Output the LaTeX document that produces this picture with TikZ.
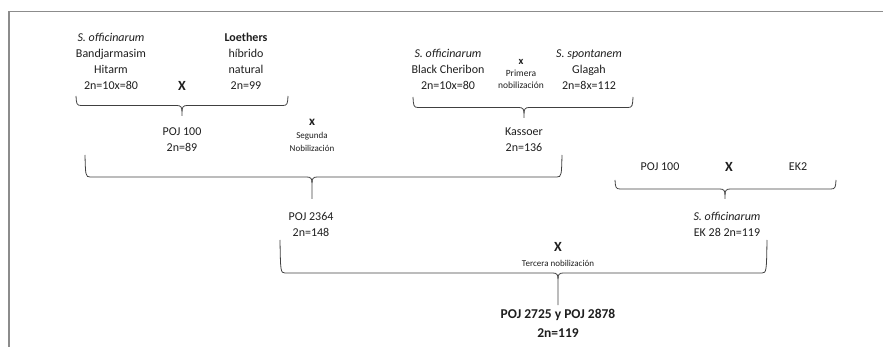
\documentclass[tikz,border=0pt]{standalone}
\usepackage{fontspec}
\setmainfont{Carlito}
\definecolor{framegray}{HTML}{8C8C8C}
\definecolor{bracegray}{HTML}{404040}
\definecolor{txt}{HTML}{1E1E1E}
\newcommand{\mybrace}[6]{% #1 xl, #2 xr, #3 xm, #4 ytop, #5 yh, #6 ytip
  \draw[bracestyle] (#1,#4) .. controls ({#1+0.5},{#5-2}) and ({#1+0.5},#5) .. ({#1+5},#5) -- ({#3-5},#5) .. controls ({#3-1},#5) and (#3,{#5+2}) .. (#3,{#5+6}) -- (#3,#6);
  \draw[bracestyle] (#2,#4) .. controls ({#2-0.5},{#5-2}) and ({#2-0.5},#5) .. ({#2-5},#5) -- ({#3+5},#5) .. controls ({#3+1},#5) and (#3,{#5+2}) .. (#3,{#5+6});
}
\tikzset{
  bracestyle/.style={draw=bracegray, line width=0.8pt},
  lbl/.style={anchor=base, align=center, inner sep=0pt, text=txt, font=\fontsize{12}{16.3}\selectfont},
  cross/.style={anchor=base, inner sep=0pt, text=txt, font=\fontsize{14}{16}\selectfont\bfseries},
  smallx/.style={anchor=base, inner sep=0pt, text=txt, font=\fontsize{10.5}{12}\selectfont\bfseries},
  tiny/.style={anchor=base, align=center, inner sep=0pt, text=txt, font=\fontsize{9}{13}\selectfont},
}
\begin{document}
\begin{tikzpicture}[x=1pt,y=-1pt]
\useasboundingbox (0,0) rectangle (883,347);
% frame
\draw[framegray, line width=1.5pt] (9,347) -- (9,11.5) -- (883,11.5);

% first cross (anchor = baseline of last line)
\node[lbl] (ban) at (111,90) {\textit{S. officinarum}\\Bandjarmasim\\Hitarm\\2n=10x=80};
\node[cross] (x1) at (182,91) {X};
\node[lbl] (loe) at (246,90) {\textbf{Loethers}\\híbrido\\natural\\2n=99};
\mybrace{76}{288}{182}{96}{105.5}{116}
\node[lbl] (poj100) at (182,152) {POJ 100\\2n=89};

% second nobilization label
\node[smallx, font=\fontsize{13}{14}\selectfont\bfseries] (x2) at (312,126) {x};
\node[tiny] (seg) at (312,152) {Segunda\\Nobilización};

% Black Cheribon cross
\node[lbl] (bla) at (448,90) {\textit{S. officinarum}\\Black Cheribon\\2n=10x=80};
\node[smallx] (x3) at (521,65) {x};
\node[tiny, font=\fontsize{9.5}{12}\selectfont] (pri) at (521,89) {Primera\\nobilización};
\node[lbl] (gla) at (589,90) {\textit{S. spontanem}\\Glagah\\2n=8x=112};
\mybrace{413}{633}{524}{97}{107.5}{118}
\node[lbl] (kas) at (524,152) {Kassoer\\2n=136};

% big brace
\mybrace{85}{562}{312}{155}{177}{199}
\node[lbl] (poj2364) at (311,237) {POJ 2364\\2n=148};

% POJ 100 x EK2
\node[lbl] (p100b) at (660,171) {POJ 100};
\node[cross] (x4) at (729,172) {X};
\node[lbl] (ek2) at (798,171) {EK2};
\mybrace{615}{836}{725}{180}{189}{199}
\node[lbl] (ek28) at (727,237) {\textit{S. officinarum}\\EK 28 2n=119};

% third
\node[cross] (x5) at (558,252) {X};
\node[tiny] (ter) at (558,266) {Tercera nobilización};
\mybrace{280}{767}{558}{240}{273}{305}
\node[lbl, font=\fontsize{13.5}{19}\selectfont\bfseries] (final) at (558,337) {POJ 2725 y POJ 2878\\2n=119};
\end{tikzpicture}
\end{document}
